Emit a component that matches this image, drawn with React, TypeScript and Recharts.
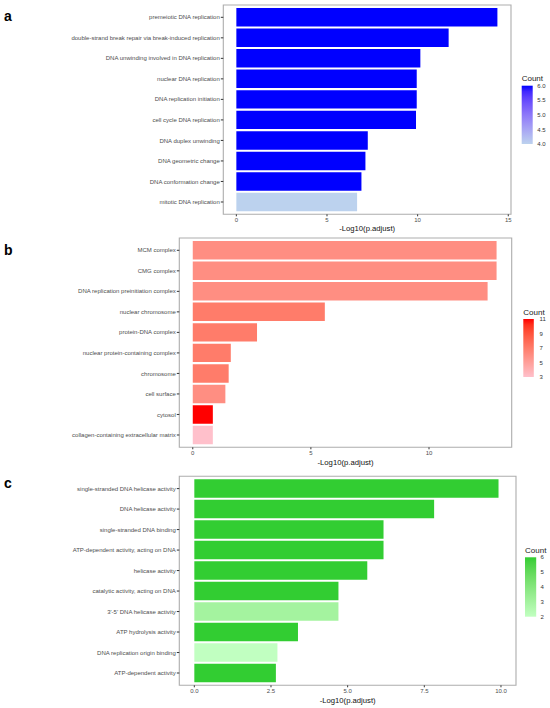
import { BarChart, Bar, Cell, XAxis, YAxis, ReferenceArea } from "recharts";

const FONT = '"Liberation Sans", Arial, Helvetica, sans-serif';

// a: biological process
const bpTerms = [
  "premeiotic DNA replication",
  "double-strand break repair via break-induced replication",
  "DNA unwinding involved in DNA replication",
  "nuclear DNA replication",
  "DNA replication initiation",
  "cell cycle DNA replication",
  "DNA duplex unwinding",
  "DNA geometric change",
  "DNA conformation change",
  "mitotic DNA replication",
];
const bpScore = [14.4, 11.71, 10.15, 9.95, 9.95, 9.91, 7.25, 7.12, 6.9, 6.66];
const bpCount = [6, 6, 6, 6, 6, 6, 6, 6, 6, 4];
const bpTicks = [0, 5, 10, 15];
const bpBreaks = [4, 4.5, 5, 5.5, 6];

// b: cellular component
const ccTerms = [
  "MCM complex",
  "CMG complex",
  "DNA replication preinitiation complex",
  "nuclear chromosome",
  "protein-DNA complex",
  "nuclear protein-containing complex",
  "chromosome",
  "cell surface",
  "cytosol",
  "collagen-containing extracellular matrix",
];
const ccScore = [12.86, 12.86, 12.48, 5.59, 2.72, 1.61, 1.52, 1.38, 0.85, 0.85];
const ccCount = [6, 6, 6, 7, 7, 7, 7, 6, 11, 3];
const ccTicks = [0, 5, 10];
const ccBreaks = [3, 5, 7, 9, 11];

// c: molecular function
const mfTerms = [
  "single-stranded DNA helicase activity",
  "DNA helicase activity",
  "single-stranded DNA binding",
  "ATP-dependent activity, acting on DNA",
  "helicase activity",
  "catalytic activity, acting on DNA",
  "3'-5' DNA helicase activity",
  "ATP hydrolysis activity",
  "DNA replication origin binding",
  "ATP-dependent activity",
];
const mfScore = [9.92, 7.82, 6.17, 6.17, 5.64, 4.7, 4.7, 3.38, 2.71, 2.66];
const mfCount = [6, 6, 6, 6, 6, 6, 3, 6, 2, 6];
const mfTicks = [0, 2.5, 5, 7.5, 10];
const mfBreaks = [2, 3, 4, 5, 6];

// colour ramp in CIELAB, like ggplot's scale_fill_gradient
function lin(c: number) {
  c /= 255;
  return c <= 0.04045 ? c / 12.92 : Math.pow((c + 0.055) / 1.055, 2.4);
}
function unlin(c: number) {
  const v = c <= 0.0031308 ? 12.92 * c : 1.055 * Math.pow(c, 1 / 2.4) - 0.055;
  return Math.round(Math.min(1, Math.max(0, v)) * 255);
}
const WHITE = [0.95047, 1, 1.08883];
function toLab(hex: string) {
  const r = lin(parseInt(hex.slice(1, 3), 16));
  const g = lin(parseInt(hex.slice(3, 5), 16));
  const b = lin(parseInt(hex.slice(5, 7), 16));
  const xyz = [
    0.4124 * r + 0.3576 * g + 0.1805 * b,
    0.2126 * r + 0.7152 * g + 0.0722 * b,
    0.0193 * r + 0.1192 * g + 0.9505 * b,
  ];
  const f = xyz.map((v, i) => {
    const t = v / WHITE[i];
    return t > 0.008856 ? Math.cbrt(t) : 7.787 * t + 16 / 116;
  });
  return [116 * f[1] - 16, 500 * (f[0] - f[1]), 200 * (f[1] - f[2])];
}
function fromLab([L, a, b]: number[]) {
  const fy = (L + 16) / 116;
  const fs = [fy + a / 500, fy, fy - b / 200];
  const [x, y, z] = fs.map((f, i) => {
    const t = f * f * f > 0.008856 ? f * f * f : (f - 16 / 116) / 7.787;
    return t * WHITE[i];
  });
  const r = 3.2406 * x - 1.5372 * y - 0.4986 * z;
  const g = -0.9689 * x + 1.8758 * y + 0.0415 * z;
  const bb = 0.0557 * x - 0.204 * y + 1.057 * z;
  return `rgb(${unlin(r)},${unlin(g)},${unlin(bb)})`;
}
function ramp(low: string, high: string, t: number) {
  const a = toLab(low);
  const b = toLab(high);
  return fromLab(a.map((v, i) => v + (b[i] - v) * t));
}

type PanelProps = {
  top: number;
  terms: string[];
  scores: number[];
  counts: number[];
  low: string;
  high: string;
  cMin: number;
  cMax: number;
  xDomain: [number, number];
  xTicks: number[];
  tickFmt: (v: number) => string;
  margin: { top: number; right: number; bottom: number; left: number };
  yWidth: number;
  titleOffset: number;
};

const CHART_H = 240;
const XAXIS_H = 20;

function GoPanel(p: PanelProps) {
  const n = p.terms.length;
  // position 1 is drawn at the top of the panel
  const rows = p.terms.map((t, i) => ({
    term: t,
    pos: i + 1,
    score: p.scores[i],
    count: p.counts[i],
  }));
  const posTicks = rows.map((r) => r.pos);
  const plotH = CHART_H - p.margin.top - p.margin.bottom - XAXIS_H;
  const barSize = (0.9 * plotH) / (n + 0.2);

  const YTick = ({ x, y, payload }: any) => (
    <text
      x={x}
      y={y}
      dy="0.35em"
      textAnchor="end"
      fontSize={6}
      fill="#4D4D4D"
      fontFamily={FONT}
    >
      {p.terms[payload.value - 1]}
    </text>
  );

  return (
    <div style={{ position: "absolute", left: 0, top: p.top }}>
      <BarChart
        width={550}
        height={CHART_H}
        layout="vertical"
        data={rows}
        margin={p.margin}
        barSize={barSize}
      >
        <XAxis
          type="number"
          dataKey="score"
          domain={p.xDomain}
          allowDataOverflow
          ticks={p.xTicks}
          interval={0}
          tickFormatter={p.tickFmt}
          height={XAXIS_H}
          axisLine={false}
          tickSize={2}
          tickMargin={1}
          tickLine={{ stroke: "#333333" }}
          tick={{ fill: "#4D4D4D", fontSize: 6, fontFamily: FONT }}
          label={{
            value: "-Log10(p.adjust)",
            position: "insideBottom",
            offset: p.titleOffset,
            fill: "#111111",
            fontSize: 7.7,
            fontFamily: FONT,
          }}
        />
        <YAxis
          type="number"
          dataKey="pos"
          domain={[0.4, n + 0.6]}
          allowDataOverflow
          ticks={posTicks}
          interval={0}
          width={p.yWidth}
          axisLine={false}
          tickSize={2.5}
          tickMargin={1}
          tickLine={{ stroke: "#333333" }}
          tick={<YTick />}
        />
        <Bar dataKey="score" isAnimationActive={false}>
          {rows.map((r, i) => (
            <Cell
              key={i}
              fill={ramp(p.low, p.high, (r.count - p.cMin) / (p.cMax - p.cMin))}
            />
          ))}
        </Bar>
        <ReferenceArea
          x1={p.xDomain[0]}
          x2={p.xDomain[1]}
          y1={0.4}
          y2={n + 0.6}
          fill="none"
          stroke="#ADADAD"
          strokeWidth={1.1}
          ifOverflow="visible"
        />
      </BarChart>
    </div>
  );
}

type BarLegendProps = {
  id: string;
  x: number;
  y: number;
  w: number;
  h: number;
  low: string;
  high: string;
  breaks: number[];
  fmt: (v: number) => string;
  titleY: number;
  labelX: number;
};

function ColourBar(l: BarLegendProps) {
  const min = l.breaks[0];
  const max = l.breaks[l.breaks.length - 1];
  const stops = Array.from({ length: 11 }, (_, i) => i / 10);
  return (
    <g>
      <defs>
        <linearGradient id={l.id} x1="0" y1="1" x2="0" y2="0">
          {stops.map((s) => (
            <stop key={s} offset={s} stopColor={ramp(l.low, l.high, s)} />
          ))}
        </linearGradient>
      </defs>
      <text x={l.x} y={l.titleY} fontSize={8} fill="#1A1A1A" fontFamily={FONT}>
        Count
      </text>
      <rect x={l.x} y={l.y} width={l.w} height={l.h} fill={`url(#${l.id})`} />
      {l.breaks.map((b) => (
        <text
          key={b}
          x={l.labelX}
          y={l.y + l.h - ((b - min) / (max - min)) * l.h}
          dy="0.35em"
          fontSize={6}
          fill="#333333"
          fontFamily={FONT}
        >
          {l.fmt(b)}
        </text>
      ))}
    </g>
  );
}

export default function App() {
  return (
    <div
      style={{
        position: "absolute",
        left: 0,
        top: 0,
        width: 550,
        height: 708,
        background: "#ffffff",
        fontFamily: FONT,
      }}
    >
      <svg
        width={550}
        height={708}
        style={{ position: "absolute", left: 0, top: 0 }}
      >
        <text x={4} y={20.7} fontSize={14} fontWeight="bold" fontFamily={FONT}>
          a
        </text>
        <text x={4} y={254.7} fontSize={14} fontWeight="bold" fontFamily={FONT}>
          b
        </text>
        <text x={4} y={488} fontSize={14} fontWeight="bold" fontFamily={FONT}>
          c
        </text>
        <ColourBar
          id="gA"
          x={521.7}
          y={85.7}
          w={11}
          h={58.3}
          low="#BCD2EE"
          high="#0000FF"
          breaks={bpBreaks}
          fmt={(v) => v.toFixed(1)}
          titleY={81}
          labelX={537.3}
        />
        <ColourBar
          id="gB"
          x={523.3}
          y={319}
          w={10.5}
          h={58}
          low="#FFC0CB"
          high="#FF0000"
          breaks={ccBreaks}
          fmt={(v) => String(v)}
          titleY={315}
          labelX={539.5}
        />
        <ColourBar
          id="gC"
          x={525}
          y={557.3}
          w={11.2}
          h={59.4}
          low="#C1FFC1"
          high="#32CD32"
          breaks={mfBreaks}
          fmt={(v) => String(v)}
          titleY={553}
          labelX={540.5}
        />
      </svg>

      <GoPanel
        top={0}
        terms={bpTerms}
        scores={bpScore}
        counts={bpCount}
        low="#BCD2EE"
        high="#0000FF"
        cMin={4}
        cMax={6}
        xDomain={[-0.72, 15.15]}
        xTicks={bpTicks}
        tickFmt={(v) => String(v)}
        margin={{ top: 5, right: 39, bottom: 5.7, left: 0 }}
        yWidth={223.3}
        titleOffset={3}
      />
      <GoPanel
        top={232}
        terms={ccTerms}
        scores={ccScore}
        counts={ccCount}
        low="#FFC0CB"
        high="#FF0000"
        cMin={3}
        cMax={11}
        xDomain={[-0.57, 13.5]}
        xTicks={ccTicks}
        tickFmt={(v) => String(v)}
        margin={{ top: 6, right: 38.3, bottom: 4.7, left: 0 }}
        yWidth={179.3}
        titleOffset={2.6}
      />
      <GoPanel
        top={468}
        terms={mfTerms}
        scores={mfScore}
        counts={mfCount}
        low="#C1FFC1"
        high="#32CD32"
        cMin={2}
        cMax={6}
        xDomain={[-0.49, 10.49]}
        xTicks={mfTicks}
        tickFmt={(v) => v.toFixed(1)}
        margin={{ top: 8.3, right: 34, bottom: 2.7, left: 0 }}
        yWidth={179.3}
        titleOffset={2.3}
      />
    </div>
  );
}
